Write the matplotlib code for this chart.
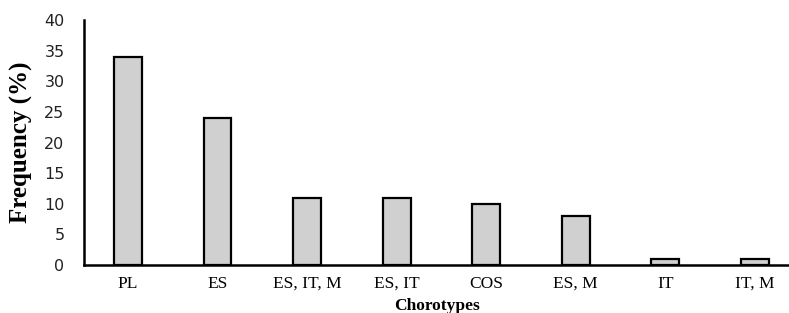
import numpy as np
import matplotlib
matplotlib.use('Agg')
import matplotlib.pyplot as plt

# chorotype frequencies
chorotypes = ['PL', 'ES', 'ES, IT, M', 'ES, IT', 'COS', 'ES, M', 'IT', 'IT, M']
frequency = [34, 24, 11, 11, 10, 8, 1, 1]
yticks = [0, 5, 10, 15, 20, 25, 30, 35, 40]

fig = plt.figure(figsize=(7.89, 3.13), dpi=100)
ax = fig.add_axes([0.1065, 0.1534, 0.8935, 0.7826])

x = np.arange(len(chorotypes))
ax.bar(x, frequency, width=0.31, color='#d0d0d0', edgecolor='black', linewidth=1.6)

ax.set_xlim(-0.49, 7.38)
ax.set_ylim(0, 40)
ax.set_yticks(yticks)
ax.set_yticklabels([str(v) for v in yticks], fontsize=11.5, family='DejaVu Sans', color='#222222')
ax.set_xticks(x)
ax.set_xticklabels(chorotypes, fontsize=12.5, family='Liberation Serif')
ax.tick_params(axis='x', length=0, pad=8)
ax.tick_params(axis='y', length=0, pad=14)

for s in ['top', 'right']:
    ax.spines[s].set_visible(False)
for s in ['left', 'bottom']:
    ax.spines[s].set_linewidth(1.8)

ax.set_ylabel('Frequency (%)', fontsize=18, family='Liberation Serif', fontweight='bold', labelpad=8)
ax.set_xlabel('Chorotypes', fontsize=12.5, family='Liberation Serif', fontweight='bold', labelpad=4)

fig.savefig('out.png', dpi=100)
